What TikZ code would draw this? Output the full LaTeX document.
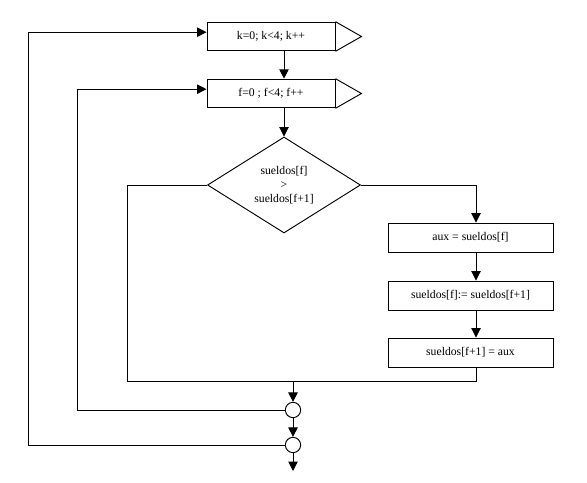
\documentclass[tikz,border=0pt]{standalone}
\usepackage{fontspec}
\setmainfont{Liberation Serif}
\usetikzlibrary{arrows.meta,shapes.geometric,positioning}
\tikzset{loopbox/.style = {rectangle, draw, line width = 0.8pt, minimum width = 3.84cm, minimum height = 0.86cm, inner sep = 0pt},
	procbox/.style = {rectangle, draw, line width = 0.8pt, minimum width = 4.95cm, minimum height = 0.87cm, inner sep = 0pt},
	decision/.style = {diamond, draw, line width = 0.8pt, minimum width = 4.59cm, minimum height = 2.88cm, aspect = 1.6, inner sep = 0pt, align = center},
	joint/.style = {circle, draw, line width = 0.8pt, minimum size = 0.46cm, inner sep = 0pt},
	arr/.style = {-{Triangle[length = 8pt, width = 8pt]}, line width = 0.8pt},
	line/.style = {line width = 0.8pt}}

\begin{document}
\begin{tikzpicture}[x = 0.03cm, y = -0.03cm, font = \fontsize{10}{12}\selectfont]

 \useasboundingbox (0,0) rectangle (587,483);

 \node (loop1) at (271, 36.5) [loopbox] {k=0; k<4; k++};
 \draw[line] (loop1.north east) -- ([xshift = 0.78cm]loop1.east) -- (loop1.south east);
 \node (loop2) at (271, 93.5) [loopbox] {f=0 ; f<4; f++};
 \draw[line] (loop2.north east) -- ([xshift = 0.78cm]loop2.east) -- (loop2.south east);

 \node (cond) at (284, 185) [decision] {sueldos[f]\\>\\sueldos[f+1]};

 \node (aux) at (470.5, 237.5) [procbox] {aux = sueldos[f]};
 \node (swap1) at (470.5, 295.5) [procbox] {sueldos[f]:= sueldos[f+1]};
 \node (swap2) at (470.5, 352.5) [procbox] {sueldos[f+1] = aux};

 \node (j1) at (293, 410) [joint] {};
 \node (j2) at (293, 445) [joint] {};

 % turning points of the lines
 \coordinate (rturn) at (476, 185);
 \coordinate (lturn) at (127, 185);
 \coordinate (merge) at (293, 381);
 \coordinate (back2) at (77, 410);
 \coordinate (back1) at (28, 445);
 \coordinate (out) at (293, 471);

 \draw[arr] (loop1.south -| cond) -- (loop2.north -| cond);
 \draw[arr] (loop2.south -| cond) -- (cond.north);
 \draw[arr] (cond.east) -- (rturn) -- (aux.north -| rturn);
 \draw[arr] (aux.south -| rturn) -- (swap1.north -| rturn);
 \draw[arr] (swap1.south -| rturn) -- (swap2.north -| rturn);
 \draw[line] (swap2.south -| rturn) |- (lturn |- merge) -- (lturn) -- (cond.west);

 \draw[arr] (merge) -- (j1.north);
 \draw[arr] (j1.south) -- (j2.north);
 \draw[arr] (j2.south) -- (out);
 \draw[arr] (j1.west) -- (back2) |- ([yshift = 0.13cm]loop2.west);
 \draw[arr] (j2.west) -- (back1) |- ([yshift = 0.13cm]loop1.west);

\end{tikzpicture}
\end{document}
